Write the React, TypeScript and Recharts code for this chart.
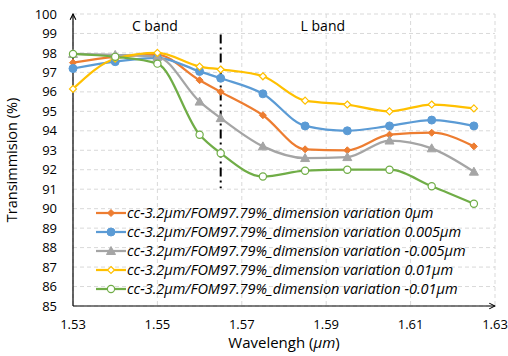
import { CartesianGrid, Legend, Line, LineChart, ReferenceDot, ReferenceLine, XAxis, YAxis } from 'recharts';

const WAVELENGTHS = [1.53, 1.54, 1.55, 1.56, 1.565, 1.575, 1.585, 1.595, 1.605, 1.615, 1.625];
const VAR_0 = [97.5, 97.8, 97.9, 96.6, 96.0, 94.8, 93.05, 93.0, 93.8, 93.9, 93.2];
const VAR_P005 = [97.2, 97.55, 97.75, 97.05, 96.7, 95.9, 94.25, 94.0, 94.25, 94.55, 94.25];
const VAR_M005 = [97.95, 97.9, 97.8, 95.5, 94.65, 93.2, 92.6, 92.65, 93.5, 93.1, 91.9];
const VAR_P01 = [96.15, 97.7, 98.0, 97.3, 97.15, 96.8, 95.55, 95.35, 95.0, 95.35, 95.15];
const VAR_M01 = [97.95, 97.8, 97.45, 93.8, 92.85, 91.65, 91.95, 92.0, 92.0, 91.15, 90.25];

const X_TICKS = [1.53, 1.55, 1.57, 1.59, 1.61, 1.63];
const Y_TICKS = [85, 86, 87, 88, 89, 90, 91, 92, 93, 94, 95, 96, 97, 98, 99, 100];
const BAND_SPLIT = 1.565;

type Marker = 'diamond' | 'circle' | 'triangle' | 'diamondOpen' | 'circleOpen';

const SERIES: { key: string; name: string; color: string; marker: Marker; values: number[] }[] = [
  { key: 'v0', name: 'cc-3.2µm/FOM97.79%_dimension variation 0µm', color: '#ED7D31', marker: 'diamond', values: VAR_0 },
  { key: 'vp005', name: 'cc-3.2µm/FOM97.79%_dimension variation 0.005µm', color: '#5B9BD5', marker: 'circle', values: VAR_P005 },
  { key: 'vm005', name: 'cc-3.2µm/FOM97.79%_dimension variation -0.005µm', color: '#A5A5A5', marker: 'triangle', values: VAR_M005 },
  { key: 'vp01', name: 'cc-3.2µm/FOM97.79%_dimension variation 0.01µm', color: '#FFC000', marker: 'diamondOpen', values: VAR_P01 },
  { key: 'vm01', name: 'cc-3.2µm/FOM97.79%_dimension variation -0.01µm', color: '#70AD47', marker: 'circleOpen', values: VAR_M01 },
];

const data = WAVELENGTHS.map((w, i) => {
  const row: Record<string, number> = { w };
  SERIES.forEach((s) => (row[s.key] = s.values[i]));
  return row;
});

const FONT = '"Open Sans", sans-serif';

function drawMarker(kind: Marker, color: string, cx: number, cy: number, key?: string) {
  switch (kind) {
    case 'diamond':
      return <polygon key={key} points={`${cx},${cy - 3.5} ${cx + 3.5},${cy} ${cx},${cy + 3.5} ${cx - 3.5},${cy}`} fill={color} stroke={color} />;
    case 'circle':
      return <circle key={key} cx={cx} cy={cy} r={4} fill={color} stroke={color} />;
    case 'triangle':
      return <polygon key={key} points={`${cx},${cy - 4.5} ${cx + 4.5},${cy + 3.5} ${cx - 4.5},${cy + 3.5}`} fill={color} stroke={color} />;
    case 'diamondOpen':
      return <polygon key={key} points={`${cx},${cy - 3.5} ${cx + 3.5},${cy} ${cx},${cy + 3.5} ${cx - 3.5},${cy}`} fill="#fff" stroke={color} strokeWidth={1.2} />;
    default:
      return <circle key={key} cx={cx} cy={cy} r={3.6} fill="#fff" stroke={color} strokeWidth={1.2} />;
  }
}

function LegendBox() {
  return (
    <div style={{ fontFamily: FONT, fontStyle: 'italic', fontSize: 14.5, lineHeight: '19px', color: '#000' }}>
      {SERIES.map((s) => (
        <div key={s.key} style={{ display: 'flex', alignItems: 'center', whiteSpace: 'nowrap' }}>
          <svg width={30} height={12} style={{ marginRight: 1 }}>
            <line x1={0} y1={6} x2={30} y2={6} stroke={s.color} strokeWidth={2.25} />
            {drawMarker(s.marker, s.color, 15, 6)}
          </svg>
          <span>{s.name}</span>
        </div>
      ))}
    </div>
  );
}

function XTitle({ viewBox }: any) {
  const vb = viewBox ?? { x: 73, y: 306, width: 422, height: 50 };
  return (
    <text x={vb.x + vb.width / 2} y={vb.y + vb.height - 8} textAnchor="middle" fill="#000" fontSize={15} fontFamily={FONT}>
      Wavelengh (<tspan fontStyle="italic">µm</tspan>)
    </text>
  );
}

export default function App() {
  return (
    <div style={{ position: 'absolute', left: 0, top: 0, width: 508, height: 356, background: '#fff' }}>
      <svg width={0} height={0} style={{ position: 'absolute' }}>
        <defs>
          <marker id="axisArrow" viewBox="0 0 10 10" refX="9" refY="5" markerWidth="6" markerHeight="6" orient="auto-start-reverse">
            <path d="M1,1 L9,5 L1,9" fill="none" stroke="#000" strokeWidth={1.5} />
          </marker>
        </defs>
      </svg>
      <LineChart width={508} height={356} data={data} margin={{ top: 14, right: 13, bottom: 0, left: 0 }}>
        <CartesianGrid stroke="#d9d9d9" strokeDasharray="4 3" horizontalValues={Y_TICKS} verticalValues={X_TICKS} />
        <XAxis
          dataKey="w"
          type="number"
          domain={[1.53, 1.63]}
          ticks={X_TICKS}
          interval={0}
          height={50}
          tickLine={false}
          tickSize={6}
          tickMargin={8}
          axisLine={{ stroke: '#000', strokeWidth: 1.2, markerEnd: 'url(#axisArrow)' }}
          tick={{ fill: '#000', fontSize: 13, fontFamily: FONT }}
          tickFormatter={(v: number) => v.toFixed(2)}
          label={<XTitle />}
        />
        <YAxis
          type="number"
          domain={[85, 100]}
          ticks={Y_TICKS}
          interval={0}
          width={73}
          tickLine={false}
          tickSize={6}
          tickMargin={10}
          axisLine={{ stroke: '#000', strokeWidth: 1.2, markerStart: 'url(#axisArrow)' }}
          tick={{ fill: '#000', fontSize: 13, fontFamily: FONT }}
          label={{
            value: 'Transimmision (%)',
            angle: -90,
            position: 'insideLeft',
            offset: 12,
            style: { fill: '#000', fontSize: 14.5, fontFamily: FONT, textAnchor: 'middle' },
          }}
        />
        <ReferenceLine
          segment={[
            { x: BAND_SPLIT, y: 98.95 },
            { x: BAND_SPLIT, y: 91.05 },
          ]}
          stroke="#000"
          strokeWidth={2}
          strokeDasharray="9 4 2 4"
        />
        <ReferenceDot x={1.5494} y={99.4} r={0} fill="none" stroke="none" label={{ value: 'C band', position: 'center', style: { fill: '#000', fontSize: 14, fontFamily: FONT } }} />
        <ReferenceDot x={1.5892} y={99.4} r={0} fill="none" stroke="none" label={{ value: 'L band', position: 'center', style: { fill: '#000', fontSize: 14, fontFamily: FONT } }} />
        {SERIES.map((s) => (
          <Line
            key={s.key}
            dataKey={s.key}
            name={s.name}
            type="monotone"
            stroke={s.color}
            strokeWidth={2.25}
            isAnimationActive={false}
            dot={(p: any) => drawMarker(s.marker, s.color, p.cx, p.cy, `${s.key}-${p.index}`)}
            activeDot={false}
          />
        ))}
        <Legend
          layout="vertical"
          align="center"
          verticalAlign="middle"
          content={() => <LegendBox />}
          wrapperStyle={{ position: 'absolute', left: 96, top: 203, width: 'auto' }}
        />
      </LineChart>
    </div>
  );
}
